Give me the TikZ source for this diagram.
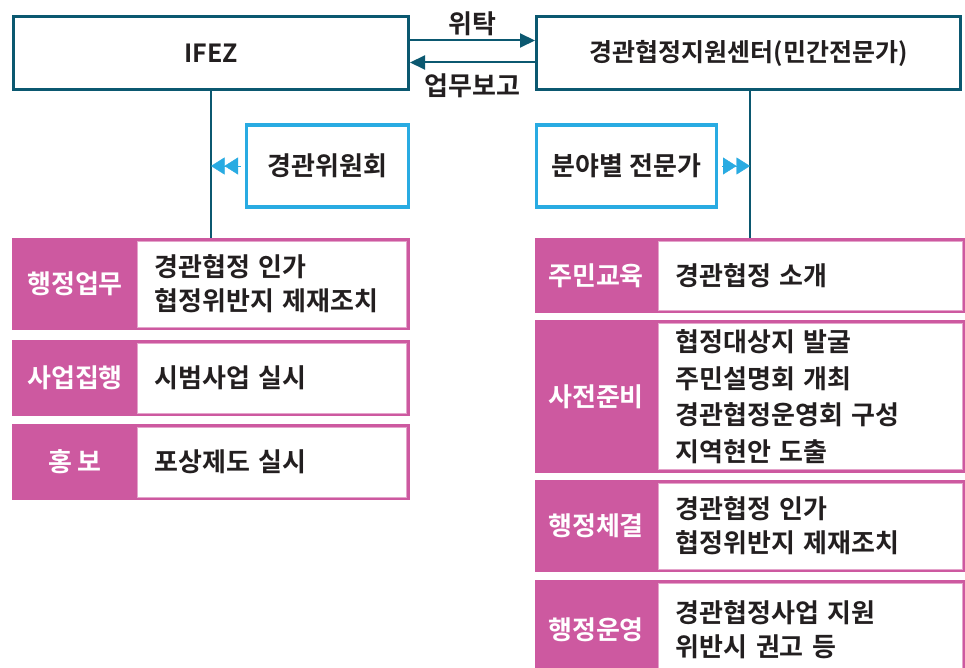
\documentclass[tikz,border=0pt]{standalone}
\usepackage{fontspec}
\setmainfont{Noto Sans CJK KR}[BoldFont={Noto Sans CJK KR Bold}]
\usetikzlibrary{arrows.meta}
\definecolor{ifezblue}{HTML}{0B5870}
\definecolor{skyline}{HTML}{29ABE2}
\definecolor{rosebar}{HTML}{CD59A0}
\definecolor{inkgray}{HTML}{231F20}
\begin{document}
\begin{tikzpicture}[x=1pt, y=-1pt, font=\bfseries\fontsize{26}{34}\selectfont, text=inkgray,
  hub/.style={draw=ifezblue, line width=3pt, minimum height=73pt, inner sep=0pt, font=\bfseries\fontsize{25}{30}\selectfont},
  pane/.style={draw=skyline, line width=3.5pt, minimum height=82pt, inner sep=0pt},
  band/.style={fill=rosebar, draw=rosebar, line width=1pt, inner sep=0pt},
  tag/.style={text=white, inner sep=0pt},
  body/.style={fill=white, draw=rosebar!55, line width=0.8pt, anchor=east, align=left, inner xsep=17pt, inner ysep=0pt},
  link/.style={ifezblue, line width=2pt},
  dbl/.style={skyline, line width=0.4pt, shorten <=4pt,
    -{Triangle[length=13.5pt,width=17pt]Triangle[length=13.5pt,width=17pt]}}]
  \useasboundingbox[fill=white] (0,0) rectangle (965,668);
  % top boxes
  \node[hub, minimum width=395pt] (ifez) at (211,53.5) {IFEZ};
  \node[hub, minimum width=424pt] (ctr) at (748.5,53.5) {경관협정지원센터(민간전문가)};
  \draw[link, -{Triangle[length=15pt,width=14pt]}] ([yshift=13pt]ifez.east) -- ([yshift=13pt]ctr.west)
    node[midway, above=4pt, inner sep=0pt, text=inkgray] {위탁};
  \draw[link, -{Triangle[length=15pt,width=14pt]}] ([yshift=-9pt]ctr.west) -- ([yshift=-9pt]ifez.east)
    node[midway, below=10pt, inner sep=0pt, text=inkgray] {업무보고};
  % advisory boxes
  \node[pane, minimum width=162pt] (council) at (327.5,166) {경관위원회};
  \node[pane, minimum width=180pt] (expert) at (626.5,166) {분야별 전문가};
  % left column
  \node[band, minimum width=397pt, minimum height=91pt] (adm) at (211,284) {};
  \node[tag] (admtag) at ([xshift=63pt]adm.west) {행정업무};
  \node[body, minimum width=269pt, minimum height=86pt, text width=235pt] (admbody) at ([xshift=-3pt]adm.east) {경관협정 인가\\협정위반지 제재조치};
  \node[band, minimum width=397pt, minimum height=75pt] (run) at (211,378) {};
  \node[tag] (runtag) at ([xshift=63pt]run.west) {사업집행};
  \node[body, minimum width=269pt, minimum height=70pt, text width=235pt] (runbody) at ([xshift=-3pt]run.east) {시범사업 실시};
  \node[band, minimum width=397pt, minimum height=75pt] (pr) at (211,462) {};
  \node[tag] (prtag) at ([xshift=63pt]pr.west) {홍~보};
  \node[body, minimum width=269pt, minimum height=70pt, text width=235pt] (prbody) at ([xshift=-3pt]pr.east) {포상제도 실시};
  % right column
  \node[band, minimum width=430pt, minimum height=74pt] (edu) at (750,275.5) {};
  \node[tag] (edutag) at ([xshift=61.5pt]edu.west) {주민교육};
  \node[body, minimum width=304pt, minimum height=69pt, text width=270pt] (edubody) at ([xshift=-2.5pt]edu.east) {경관협정 소개};
  \node[band, minimum width=430pt, minimum height=152pt] (prep) at (750,396.5) {};
  \node[tag] (preptag) at ([xshift=61.5pt]prep.west) {사전준비};
  \node[body, minimum width=304pt, minimum height=146pt, text width=270pt, font=\bfseries\fontsize{26}{36.5}\selectfont] (prepbody) at ([xshift=-2.5pt]prep.east) {협정대상지 발굴\\주민설명회 개최\\경관협정운영회 구성\\지역현안 도출};
  \node[band, minimum width=430pt, minimum height=91pt] (deal) at (750,526) {};
  \node[tag] (dealtag) at ([xshift=61.5pt]deal.west) {행정체결};
  \node[body, minimum width=304pt, minimum height=86pt, text width=270pt] (dealbody) at ([xshift=-2.5pt]deal.east) {경관협정 인가\\협정위반지 제재조치};
  \node[band, minimum width=430pt, minimum height=100pt] (ops) at (750,630) {};
  \node[tag] (opstag) at ([xshift=61.5pt]ops.west) {행정운영};
  \node[body, minimum width=304pt, minimum height=94pt, text width=270pt] (opsbody) at ([xshift=-2.5pt]ops.east) {경관협정사업 지원\\위반시 권고 등};
  % connectors
  \draw[link] (ifez) -- (adm);
  \draw[link] (edu.north |- ctr.south) -- (edu.north);
  \draw[dbl] (council.west) -- (council.west -| ifez.south);
  \draw[dbl] (expert.east) -- (expert.east -| edu.north);
\end{tikzpicture}
\end{document}
